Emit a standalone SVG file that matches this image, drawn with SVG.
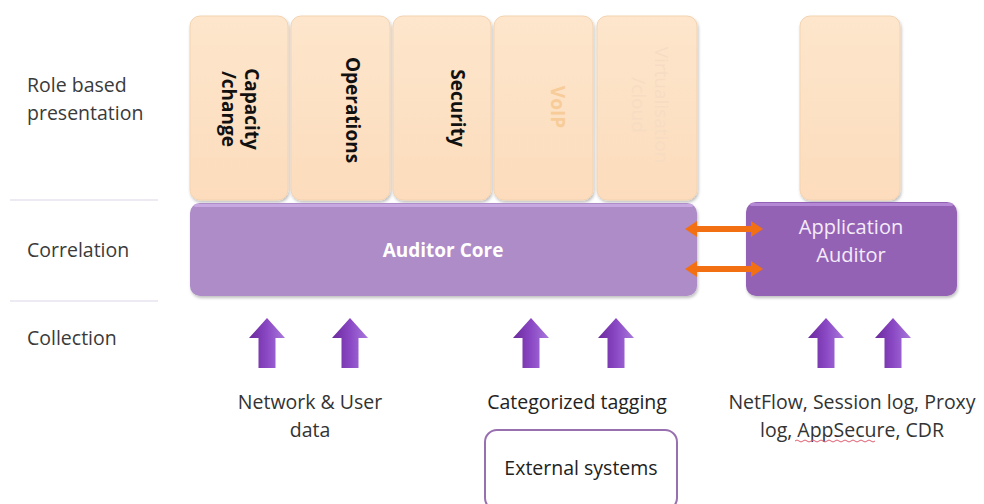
<svg xmlns="http://www.w3.org/2000/svg" width="984" height="504" viewBox="0 0 984 504">
<defs>
<linearGradient id="peach" x1="0" y1="0" x2="0" y2="1">
<stop offset="0" stop-color="#fde6cc"/><stop offset="1" stop-color="#fcdcbc"/>
</linearGradient>
<linearGradient id="upArrow" x1="0" y1="0" x2="1" y2="0">
<stop offset="0" stop-color="#6a2a9c"/><stop offset="0.5" stop-color="#8a48c4"/><stop offset="1" stop-color="#a878dc"/>
</linearGradient>
<filter id="sh" x="-10%" y="-10%" width="120%" height="130%">
<feDropShadow dx="1" dy="2" stdDeviation="1.5" flood-color="#000" flood-opacity="0.25"/>
</filter>
<path id="up" d="M0,-25 L18,-5 L8.5,-5 L8.5,25 L-8.5,25 L-8.5,-5 L-18,-5 Z"/>
</defs>
<style>
.role{fill:url(#peach);stroke:#f3d3b0;stroke-width:1;filter:url(#sh)}
.lbl{font-family:"Open Sans","Liberation Sans",sans-serif;font-size:19.5px;fill:#3a3a3a}
.vt{font-family:"Open Sans","Liberation Sans",sans-serif;font-size:19px;font-weight:bold;fill:#111;text-anchor:middle}
.txt{font-family:"Open Sans","Liberation Sans",sans-serif;font-size:19.5px;fill:#333;text-anchor:middle}
.sep{stroke:#eeeaf4;stroke-width:2}
.dbl{stroke:#f37012;stroke-width:6;fill:none}
.ah{fill:#f37012}
.arr{fill:url(#upArrow)}
</style>
<rect width="984" height="504" fill="#fff"/>
<line class="sep" x1="10" y1="200" x2="158" y2="200"/>
<line class="sep" x1="10" y1="301" x2="158" y2="301"/>
<g id="labels">
<text class="lbl" x="27" y="92">Role based</text>
<text class="lbl" x="27" y="120">presentation</text>
<text class="lbl" x="27" y="257">Correlation</text>
<text class="lbl" x="27" y="345">Collection</text>
</g>
<g id="capacity">
<rect class="role" x="190" y="16" width="98" height="184" rx="10"/>
<g transform="translate(240,109) rotate(90)">
<text class="vt" x="0" y="-5">Capacity</text>
<text class="vt" x="0" y="18">/change</text>
</g>
</g>
<g id="operations">
<rect class="role" x="291" y="16" width="99" height="184" rx="10"/>
<text class="vt" transform="translate(352,110) rotate(90)" x="0" y="6">Operations</text>
</g>
<g id="security">
<rect class="role" x="393" y="16" width="98" height="184" rx="10"/>
<text class="vt" transform="translate(457,108) rotate(90)" x="0" y="6">Security</text>
</g>
<g id="voip">
<rect class="role" x="494" y="16" width="99" height="184" rx="10"/>
<text class="vt" transform="translate(557,107) rotate(90)" x="0" y="6" style="fill:#f8cc98">VoIP</text>
</g>
<g id="virtualisation">
<rect class="role" x="597" y="16" width="100" height="184" rx="10"/>
<g transform="translate(650,105) rotate(90)">
<text class="vt" x="0" y="-5" style="fill:#f7dcc3;font-weight:normal">Virtualisation</text>
<text class="vt" x="0" y="18" style="fill:#f7dcc3;font-weight:normal">/cloud</text>
</g>
</g>
<g id="app-role">
<rect class="role" x="800" y="16" width="100" height="184" rx="10"/>
</g>
<g id="auditor-core">
<rect x="190" y="203" width="507" height="93" rx="10" fill="#ae8cc8" filter="url(#sh)"/>
<rect x="194" y="204" width="499" height="3" rx="1.5" fill="#c8a8e0"/>
<text class="txt" x="443" y="257" style="fill:#fff;font-weight:bold;font-size:19px">Auditor Core</text>
</g>
<g id="application-auditor">
<rect x="746" y="202" width="211" height="94" rx="10" fill="#9462b4" filter="url(#sh)"/>
<rect x="750" y="203" width="203" height="3" rx="1.5" fill="#b488d4"/>
<text class="txt" x="851" y="234" style="fill:#f4ecfa;font-size:20px">Application</text>
<text class="txt" x="851" y="262" style="fill:#f4ecfa;font-size:20px">Auditor</text>
</g>
<g id="external-systems">
<rect x="485" y="430" width="192" height="80" rx="12" fill="#fff" stroke="#9870b0" stroke-width="2"/>
<text class="txt" x="581" y="475" style="fill:#222">External systems</text>
</g>
<g id="captions">
<text class="txt" x="310" y="409">Network &amp; User</text>
<text class="txt" x="310" y="437">data</text>
<text class="txt" x="577" y="409" style="fill:#222">Categorized tagging</text>
<text class="txt" x="852" y="409">NetFlow, Session log, Proxy</text>
<text class="txt" x="852" y="437">log, AppSecure, CDR</text>
<path d="M795,441 q2,-2 4,0 t4,0 t4,0 t4,0 t4,0 t4,0 t4,0 t4,0 t4,0 t4,0 t4,0 t4,0 t4,0 t4,0 t4,0 t4,0 t4,0 t4,0 t4,0 t4,0" fill="none" stroke="#e06070" stroke-width="1"/>
</g>
<g id="connectors">
<line class="dbl" x1="694" y1="229" x2="754" y2="229"/>
<path class="ah" d="M685,229 L697,221 L697,237 Z"/>
<path class="ah" d="M763,229 L751,221 L751,237 Z"/>
<line class="dbl" x1="694" y1="269" x2="754" y2="269"/>
<path class="ah" d="M685,269 L697,261 L697,277 Z"/>
<path class="ah" d="M763,269 L751,261 L751,277 Z"/>
<use href="#up" class="arr" x="267" y="343"/>
<use href="#up" class="arr" x="350" y="343"/>
<use href="#up" class="arr" x="531" y="343"/>
<use href="#up" class="arr" x="616" y="343"/>
<use href="#up" class="arr" x="826" y="343"/>
<use href="#up" class="arr" x="893" y="343"/>
</g>
</svg>
